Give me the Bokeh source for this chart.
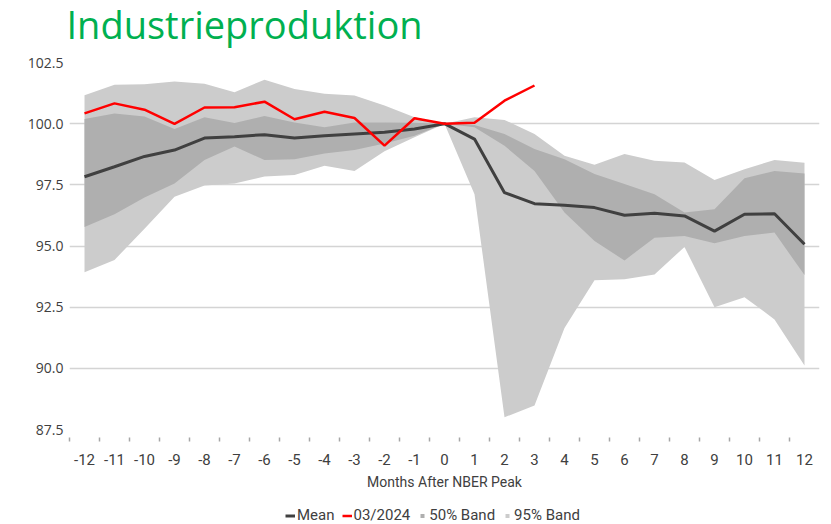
from bokeh.plotting import figure
from bokeh.layouts import column
from bokeh.models import (Range1d, FixedTicker, Legend, LegendItem, CustomJSTickFormatter, Label)
from bokeh.embed import file_html
from bokeh.resources import INLINE

months = list(range(-12, 13))
mean = [97.83, 98.24, 98.66, 98.92, 99.41, 99.47, 99.55, 99.41, 99.51, 99.58, 99.65, 99.78, 100.0,
        99.37, 97.18, 96.73, 96.67, 96.57, 96.26, 96.34, 96.23, 95.61, 96.30, 96.32, 95.07]
current_months = list(range(-12, 4))
current = [100.42, 100.83, 100.57, 99.99, 100.66, 100.67, 100.90, 100.18, 100.49, 100.23, 99.10,
           100.22, 100.0, 100.04, 100.94, 101.56]
band50_hi = [100.19, 100.42, 100.29, 99.78, 100.26, 100.03, 100.31, 100.05, 99.85, 100.05, 100.05, 100.04, 100.0,
             99.95, 99.58, 98.96, 98.55, 97.94, 97.53, 97.12, 96.37, 96.50, 97.77, 98.07, 97.96]
band50_lo = [95.78, 96.30, 96.98, 97.55, 98.51, 99.07, 98.51, 98.55, 98.78, 98.92, 99.19, 99.51, 100.0,
             99.85, 99.10, 98.07, 96.37, 95.20, 94.41, 95.34, 95.41, 95.11, 95.41, 95.55, 93.81]
band95_hi = [101.16, 101.59, 101.61, 101.72, 101.63, 101.28, 101.80, 101.42, 101.22, 101.15, 100.74, 100.26, 100.0,
             100.26, 100.15, 99.58, 98.69, 98.32, 98.76, 98.48, 98.41, 97.70, 98.14, 98.52, 98.40]
band95_lo = [93.93, 94.43, 95.70, 97.01, 97.47, 97.55, 97.84, 97.90, 98.28, 98.07, 98.87, 99.44, 100.0,
             97.12, 88.00, 88.48, 91.65, 93.60, 93.64, 93.84, 94.96, 92.50, 92.91, 92.00, 90.12]
y_ticks = [87.5, 90.0, 92.5, 95.0, 97.5, 100.0, 102.5]
title_text = "Industrieproduktion"
x_title = "Months After NBER Peak"
legend_labels = ["Mean", "03/2024", "50% Band", "95% Band"]

C95 = "#cccccc"
C50 = "#afafaf"
CMEAN = "#404040"
CRED = "#ff0000"
TXT = "#404040"
NARROW = "Roboto"
W = 823

# title strip
tf = figure(width=W, height=50, output_backend="svg", toolbar_location=None,
            x_range=Range1d(0, 1), y_range=Range1d(0, 1),
            min_border_left=0, min_border_right=0, min_border_top=0, min_border_bottom=0)
tf.axis.visible = False
tf.grid.visible = False
tf.outline_line_color = None
tf.border_fill_color = "white"
tf.add_layout(Label(x=-3, y=27, x_units="screen", y_units="screen", text=title_text,
                    text_font="Open Sans", text_font_size="38px", text_color="#00b050",
                    text_baseline="alphabetic", text_align="left"))

p = figure(width=W, height=442, output_backend="svg", toolbar_location=None,
           x_range=Range1d(-12.5, 12.5), y_range=Range1d(87.5, 102.5),
           min_border_left=69, min_border_right=4, min_border_top=12, min_border_bottom=63)
p.outline_line_color = None
p.background_fill_color = "white"
p.border_fill_color = "white"

p.varea(x=months, y1=band95_lo, y2=band95_hi, fill_color=C95)
p.varea(x=months, y1=band50_lo, y2=band50_hi, fill_color=C50)
p.line(months, mean, line_color=CMEAN, line_width=3)
p.line(current_months, current, line_color=CRED, line_width=2.5)

# axes
xa = p.xaxis[0]
xa.ticker = FixedTicker(ticks=months, minor_ticks=[m - 0.5 for m in months])
xa.formatter = CustomJSTickFormatter(code="return tick.toFixed(0);")
xa.axis_line_color = None
xa.major_tick_line_color = None
xa.major_tick_in = 0
xa.major_tick_out = 0
xa.minor_tick_in = -8
xa.minor_tick_out = 12
xa.minor_tick_line_color = "#a6a6a6"
xa.minor_tick_line_width = 1.5
xa.major_label_standoff = 12
xa.major_label_text_font = NARROW
xa.major_label_text_font_size = "15px"
xa.major_label_text_color = TXT
xa.axis_label = x_title
xa.axis_label_text_font = NARROW
xa.axis_label_text_font_size = "14px"
xa.axis_label_text_font_style = "normal"
xa.axis_label_text_color = TXT
xa.axis_label_standoff = 6

ya = p.yaxis[0]
ya.ticker = FixedTicker(ticks=y_ticks)
ya.formatter = CustomJSTickFormatter(code="return tick.toFixed(1);")
ya.axis_line_color = None
ya.major_tick_line_color = None
ya.minor_tick_line_color = None
ya.major_tick_out = 0
ya.major_tick_in = 0
ya.major_label_standoff = 6
ya.major_label_text_font = "Open Sans"
ya.major_label_text_font_size = "14px"
ya.major_label_text_color = TXT

p.xgrid.grid_line_color = None
p.ygrid.ticker = FixedTicker(ticks=y_ticks)
p.ygrid.grid_line_color = "#d4d4d4"
p.ygrid.grid_line_width = 1.5

# legend strip (one off-range sample point per key so the legend glyphs render)
lf = figure(width=W, height=32, output_backend="svg", toolbar_location=None,
            x_range=Range1d(0, 1), y_range=Range1d(0, 1),
            min_border_left=0, min_border_right=0, min_border_top=0, min_border_bottom=0)
lf.axis.visible = False
lf.grid.visible = False
lf.outline_line_color = None
lf.border_fill_color = "white"
r_mean = lf.line(x=[5, 6], y=[5, 5], line_color=CMEAN, line_width=3)
r_cur = lf.line(x=[5, 6], y=[5, 5], line_color=CRED, line_width=2.5)
r50 = lf.scatter(x=[5], y=[5], marker="square", fill_color=C50, line_color=None)
r95 = lf.scatter(x=[5], y=[5], marker="square", fill_color=C95, line_color=None)

legend = Legend(items=[
    LegendItem(label=legend_labels[0], renderers=[r_mean]),
    LegendItem(label=legend_labels[1], renderers=[r_cur]),
    LegendItem(label=legend_labels[2], renderers=[r50]),
    LegendItem(label=legend_labels[3], renderers=[r95]),
], orientation="horizontal", location=(216, 0))
legend.border_line_color = None
legend.background_fill_alpha = 0
legend.label_text_font = NARROW
legend.label_text_font_size = "15px"
legend.label_text_color = TXT
legend.glyph_width = 10
legend.glyph_height = 13
legend.label_standoff = 2
legend.spacing = 7
legend.padding = 2
legend.margin = 0
legend.label_height = 16
lf.add_layout(legend, "center")

layout = column(tf, p, lf, spacing=0)
open("out.html", "w").write(file_html(layout, INLINE))
